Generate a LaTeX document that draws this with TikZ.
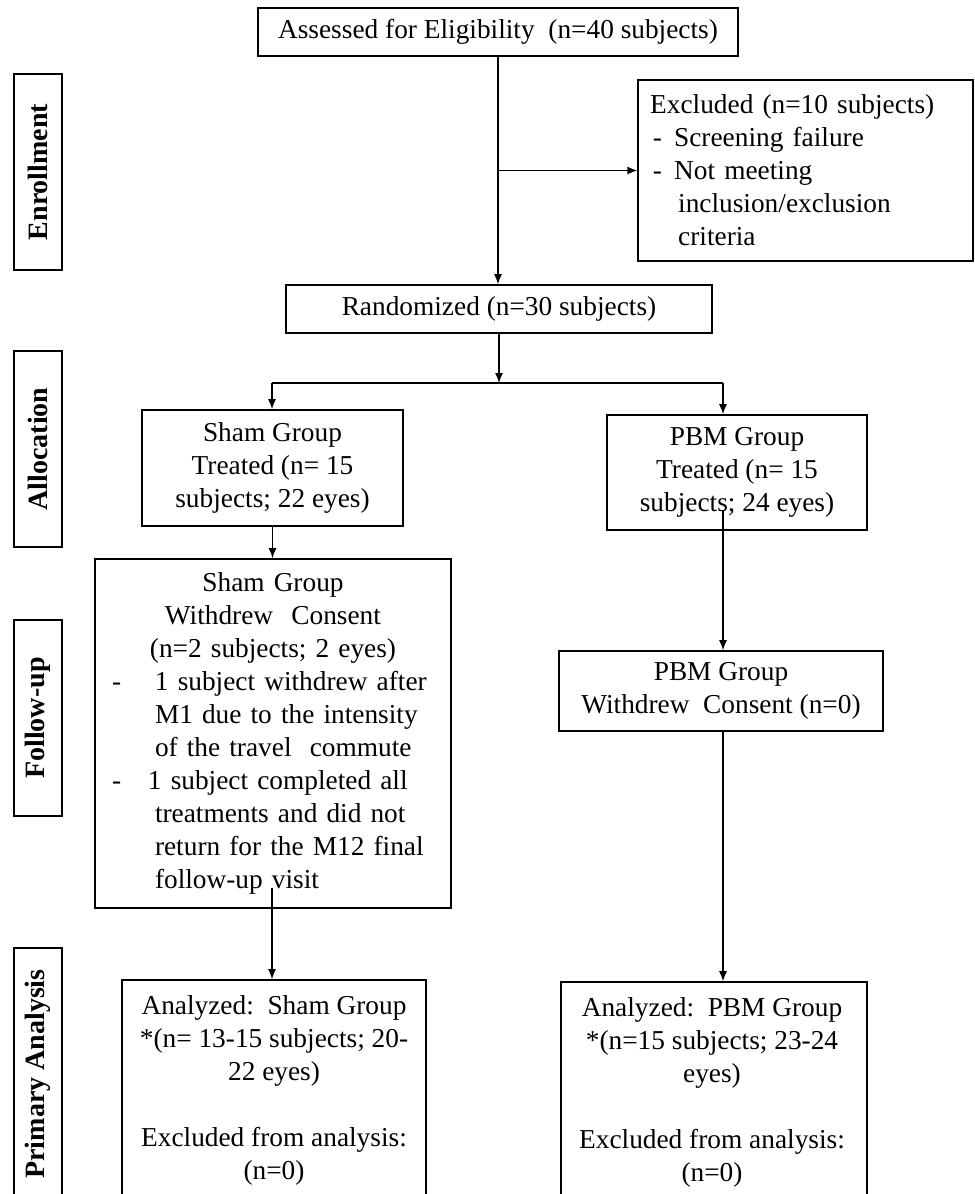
\documentclass[tikz,border=0pt]{standalone}
\usepackage{fontspec}
\setmainfont{Liberation Serif}
\usetikzlibrary{arrows.meta}
\newcommand\mainfnt{\fontsize{20.5pt}{24.75pt}\selectfont}
\newcommand\sidefnt{\fontsize{21pt}{25pt}\selectfont\bfseries}
\begin{document}
\begin{tikzpicture}[x=0.75pt,y=-0.75pt,
  box/.style={draw, line width=1.2pt, inner sep=0pt, align=center, font=\mainfnt},
  txt/.style={inner sep=0pt, align=center, font=\mainfnt},
  side/.style={draw, line width=1.2pt, inner sep=0pt, rotate=90, font=\sidefnt},
  conn/.style={-{Latex[length=7.5pt,width=6pt]}, line width=1pt},
  plain/.style={line width=1pt}]
\useasboundingbox (0,0) rectangle (974,1194);
\fill[white] (0,0) rectangle (974,1194);

% side labels
\node[side, minimum width=147pt, minimum height=36pt] (enroll) at (38,172) {Enrollment};
\node[side, minimum width=147pt, minimum height=36pt] (alloc) at (38,449) {Allocation};
\node[side, minimum width=147pt, minimum height=36pt] (follow) at (38,718) {Follow-up};
\node[side, minimum width=189pt, minimum height=36pt] (primary) at (38,1074) {Primary Analysis};

% boxes
\node[box, minimum width=360pt, minimum height=36pt] (assess) at (498,32) {Assessed for Eligibility\ \ (n=40 subjects)};
\node[box, align=left, text width=233pt, inner xsep=9pt, minimum height=135.75pt] (excl) at (805.5,170.5)
  {Excluded (n=10 subjects)\\\makebox[18pt][l]{\hspace{2pt}-}Screening failure\\\makebox[18pt][l]{\hspace{2pt}-}Not meeting\\\hspace*{21pt}inclusion/exclusion\\\hspace*{21pt}criteria};
\node[box, minimum width=319.5pt, minimum height=36pt] (rand) at (499,309) {Randomized (n=30 subjects)};
\node[box, minimum width=195.75pt, minimum height=87pt] (sham) at (272.5,468) {Sham Group\\Treated (n= 15\\subjects; 22 eyes)};
\node[box, minimum width=195pt, minimum height=86.25pt] (pbm) at (737,472.5) {PBM Group\\Treated (n= 15\\subjects; 24 eyes)};
\node[box, align=left, text width=241.5pt, inner xsep=12.75pt, minimum height=261.75pt] (shamw) at (273,733.5)
  {\makebox[241.5pt][c]{Sham Group}\\\makebox[241.5pt][c]{Withdrew\ \ Consent}\\\makebox[241.5pt][c]{(n=2 subjects; 2 eyes)}\\
   \makebox[32.25pt][l]{-}1 subject withdrew after\\\hspace*{32.25pt}M1 due to the intensity\\\hspace*{32.25pt}of the travel\ \ commute\\
   \makebox[27pt][l]{-}1 subject completed all\\\hspace*{32.25pt}treatments and did not\\\hspace*{32.25pt}return for the M12 final\\\hspace*{32.25pt}follow-up visit};
\node[box, minimum width=243pt, minimum height=60pt] (pbmw) at (721,691) {PBM Group\\Withdrew\ \ Consent (n=0)};
\node[box, minimum width=228pt, minimum height=172.5pt] (ansham) at (274,1095) {};
\node[box, minimum width=229.5pt, minimum height=171pt] (anpbm) at (714,1096) {};
\node[txt, anchor=north] (anshamt) at (274,995) {Analyzed:\ \ Sham Group\\{}*(n= 13-15 subjects; 20-\\22 eyes)\\[24.75pt]Excluded from analysis:\\(n=0)};
\node[txt, anchor=north] (anpbmt) at (712,997) {Analyzed:\ \ PBM Group\\{}*(n=15 subjects; 23-24\\eyes)\\[24.75pt]Excluded from analysis:\\(n=0)};

% connectors
\coordinate (bl) at (272,383);
\coordinate (br) at (723,383);
\coordinate (bm) at (rand.south |- bl);
\coordinate (pbmin) at (723,510);
\coordinate (shamin) at (272,888);
\draw[conn] (assess.south) -- (assess.south |- rand.north);
\draw[conn] (assess.south |- excl.west) -- (excl.west);
\draw[conn] (rand.south) -- (bm);
\draw[plain] (bl) -- (br);
\draw[conn] (bl) -- (bl |- sham.north);
\draw[conn] (br) -- (br |- pbm.north);
\draw[conn] (sham.south) -- (sham.south |- shamw.north);
\draw[conn] (pbmin) -- (pbmin |- pbmw.north);
\draw[conn] (pbmw.south -| pbmin) -- (pbmin |- anpbm.north);
\draw[conn] (shamin) -- (shamin |- ansham.north);
\end{tikzpicture}
\end{document}
